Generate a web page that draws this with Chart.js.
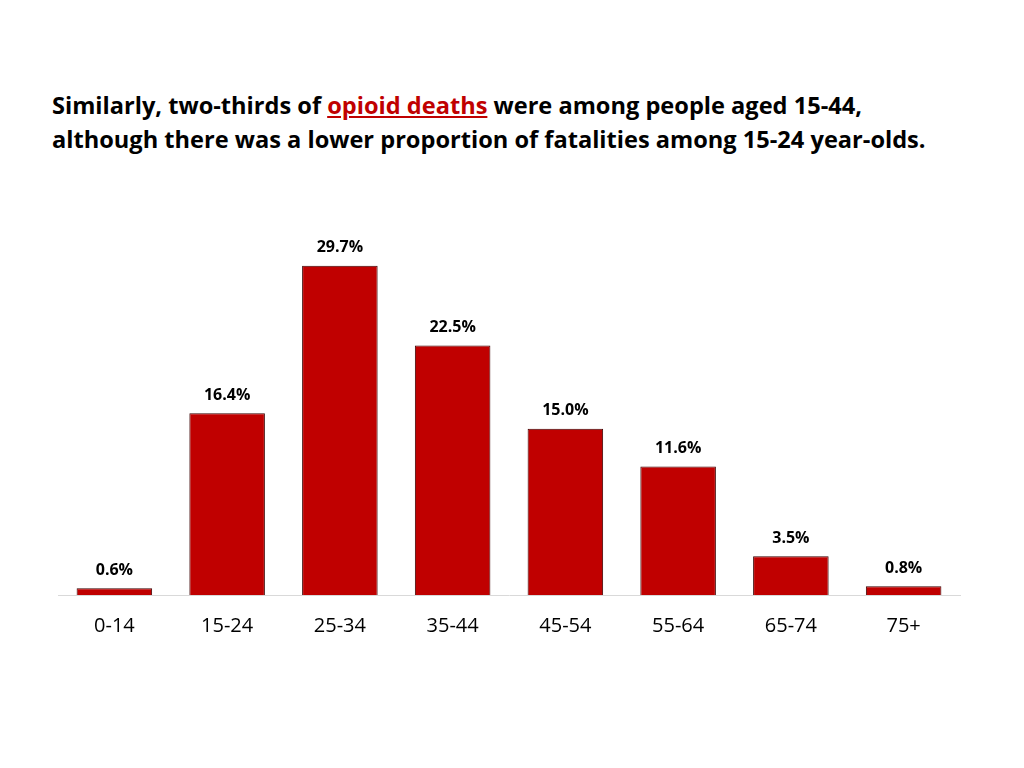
<!DOCTYPE html>
<html>
<head>
<meta charset="utf-8">
<script src="https://cdn.jsdelivr.net/npm/chart.js@4.4.1/dist/chart.umd.min.js"></script>
<style>
  body { margin: 0; background: #fff; }
  #wrap { position: relative; width: 1024px; height: 768px; }
  #title {
    position: absolute; left: 52px; top: 88px;
    font-family: "Open Sans", sans-serif; font-weight: bold;
    font-size: 23.6px; line-height: 34px; color: #000; white-space: nowrap;
  }
  #title a { color: #c00000; text-decoration: underline; }
  canvas { position: absolute; left: 0; top: 0; }
</style>
</head>
<body>
<div id="wrap">
  <div id="title">Similarly, two-thirds of <a>opioid deaths</a> were among people aged 15-44,<br>although there was a lower proportion of fatalities among 15-24 year-olds.</div>
  <canvas id="myChart" width="1024" height="768"></canvas>
</div>
<script>
const ageGroups = ['0-14', '15-24', '25-34', '35-44', '45-54', '55-64', '65-74', '75+'];
const shareOfDeaths = [0.6, 16.4, 29.7, 22.5, 15.0, 11.6, 3.5, 0.8];

// labels above each bar
const barLabels = {
	id: 'barLabels',
	afterDatasetsDraw(chart){
		const ctx = chart.ctx;
		const meta = chart.getDatasetMeta(0);
		ctx.save();
		ctx.font = 'bold 16px "Open Sans", sans-serif';
		ctx.fillStyle = '#000';
		ctx.textAlign = 'center';
		ctx.textBaseline = 'middle';
		meta.data.forEach(function(bar, i){
			ctx.fillText(shareOfDeaths[i].toFixed(1) + '%', bar.x, bar.y - 18);
		});
		ctx.restore();
	}
};

const ctx = document.getElementById('myChart').getContext('2d');
const myChart = new Chart(ctx, {
	type: 'bar',
	data: {
		labels: ageGroups,
		datasets: [{
			data: shareOfDeaths,
			backgroundColor: '#c00000',
			borderColor: '#3a0000',
			borderWidth: 1,
			barPercentage: 0.67,
			categoryPercentage: 1
		}]
	},
	options: {
		responsive: false,
		animation: false,
		layout: {
			padding: { left: 58, right: 64, top: 207, bottom: 119 }
		},
		plugins: {
			legend: { display: false },
			tooltip: { enabled: false }
		},
		scales: {
			x: {
				grid: { display: false },
				border: { color: '#d9d9d9', width: 1 },
				ticks: {
					color: '#000',
					padding: 11,
					font: { family: '"Open Sans", sans-serif', size: 20 }
				}
			},
			y: {
				display: false,
				min: 0,
				max: 35
			}
		}
	},
	plugins: [barLabels]
});
</script>
</body>
</html>
